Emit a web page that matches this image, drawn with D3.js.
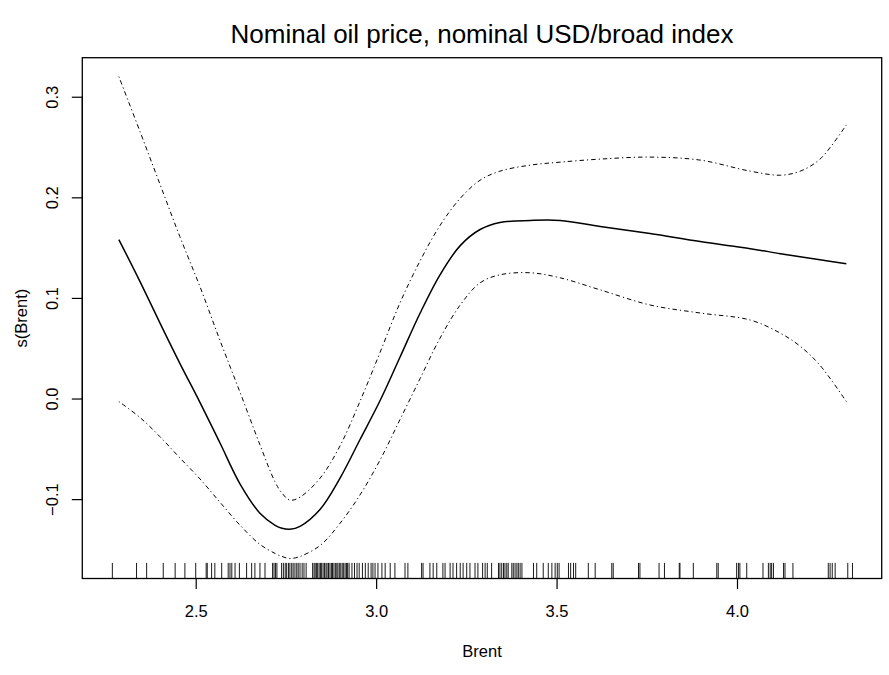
<!DOCTYPE html>
<html>
<head>
<meta charset="utf-8">
<script src="https://cdn.jsdelivr.net/npm/d3@7"></script>
<style>
  html, body { margin: 0; padding: 0; background: #ffffff; }
  svg { display: block; font-family: "Liberation Sans", Arial, sans-serif; }
</style>
</head>
<body>
<svg id="chart" width="889" height="675"></svg>
<script>
// Smooth term s(Brent): fitted curve and its +/- 2 s.e. band
const brent = [2.287, 2.346, 2.401, 2.456, 2.512, 2.567, 2.623, 2.678, 2.720, 2.739, 2.761, 2.789,
  2.845, 2.900, 2.955, 3.011, 3.066, 3.122, 3.177, 3.233, 3.288, 3.343, 3.427, 3.510, 3.621,
  3.759, 3.898, 4.037, 4.120, 4.175, 4.230, 4.303];
const fit = [0.158, 0.116, 0.075, 0.035, -0.004, -0.044, -0.085, -0.114, -0.126, -0.129, -0.130, -0.127,
  -0.110, -0.079, -0.041, -0.002, 0.041, 0.085, 0.123, 0.152, 0.168, 0.175, 0.177, 0.177, 0.171,
  0.164, 0.156, 0.149, 0.144, 0.141, 0.138, 0.134];
const upper = [0.320, 0.265, 0.213, 0.161, 0.111, 0.058, 0.006, -0.046, -0.083, -0.094, -0.101, -0.098,
  -0.079, -0.047, -0.003, 0.046, 0.095, 0.137, 0.172, 0.199, 0.217, 0.226, 0.232, 0.235, 0.238,
  0.240, 0.237, 0.226, 0.222, 0.226, 0.238, 0.272];
const lower = [-0.003, -0.019, -0.038, -0.059, -0.080, -0.103, -0.126, -0.145, -0.154, -0.157, -0.159, -0.157,
  -0.146, -0.124, -0.096, -0.061, -0.021, 0.020, 0.060, 0.093, 0.115, 0.123, 0.125, 0.120, 0.108,
  0.093, 0.085, 0.078, 0.065, 0.052, 0.033, -0.003];

// Observed Brent values shown as a rug along the x axis
const rugValues = [2.269, 2.336, 2.364, 2.410, 2.443, 2.470, 2.500, 2.529, 2.532, 2.544, 2.553, 2.572,
  2.590, 2.595, 2.600, 2.609, 2.621, 2.641, 2.655, 2.664, 2.678, 2.692, 2.713, 2.717, 2.721, 2.725,
  2.738, 2.743, 2.748, 2.752, 2.757, 2.761, 2.766, 2.770, 2.775, 2.780, 2.784, 2.789, 2.795, 2.800,
  2.806, 2.824, 2.828, 2.831, 2.835, 2.838, 2.842, 2.846, 2.849, 2.853, 2.857, 2.861, 2.864, 2.868,
  2.872, 2.876, 2.879, 2.883, 2.887, 2.891, 2.894, 2.898, 2.902, 2.906, 2.910, 2.914, 2.918, 2.921,
  2.925, 2.933, 2.940, 2.947, 2.953, 2.962, 2.970, 2.978, 2.986, 2.991, 2.997, 3.005, 3.016, 3.025,
  3.039, 3.052, 3.080, 3.088, 3.126, 3.130, 3.149, 3.158, 3.168, 3.185, 3.191, 3.205, 3.213, 3.223,
  3.233, 3.241, 3.251, 3.260, 3.274, 3.282, 3.295, 3.302, 3.308, 3.320, 3.339, 3.343, 3.348, 3.353,
  3.357, 3.362, 3.366, 3.376, 3.380, 3.385, 3.390, 3.394, 3.399, 3.404, 3.436, 3.445, 3.463, 3.477,
  3.487, 3.496, 3.502, 3.507, 3.533, 3.539, 3.547, 3.553, 3.588, 3.607, 3.653, 3.657, 3.727, 3.731,
  3.784, 3.799, 3.840, 3.842, 3.879, 3.944, 3.948, 3.999, 4.004, 4.008, 4.027, 4.072, 4.087, 4.092,
  4.096, 4.101, 4.129, 4.133, 4.155, 4.253, 4.258, 4.264, 4.272, 4.307, 4.320];

const xLimits = [2.1857, 4.401];
const yLimits = [-0.1789, 0.3388];
const xTicks = [2.5, 3.0, 3.5, 4.0];
const yTicks = [-0.1, 0.0, 0.1, 0.2, 0.3];

const titleText = "Nominal oil price, nominal USD/broad index";
const xLabel = "Brent";
const yLabel = "s(Brent)";

const svg = d3.select("#chart");
const box = { left: 82.3, top: 57.7, right: 881.7, bottom: 578.5 };

const x = d3.scaleLinear().domain(xLimits).range([box.left, box.right]);
const y = d3.scaleLinear().domain(yLimits).range([box.bottom, box.top]);

const ink = "#000000";
const tickFont = 16.5;

// Curves
const line = vals => d3.line()
  .x((d, i) => x(brent[i]))
  .y(d => y(d))
  .curve(d3.curveCatmullRom.alpha(0.5))(vals);

svg.append("path")
  .attr("d", line(fit))
  .attr("fill", "none")
  .attr("stroke", ink)
  .attr("stroke-width", 1.5);

[upper, lower].forEach(vals => {
  svg.append("path")
    .attr("d", line(vals))
    .attr("fill", "none")
    .attr("stroke", ink)
    .attr("stroke-width", 1)
    .attr("stroke-dasharray", "1.2,3,4.5,3");
});

// Rug
const rugLen = 15.6;
svg.append("g")
  .selectAll("line")
  .data(rugValues)
  .join("line")
  .attr("x1", d => x(d))
  .attr("x2", d => x(d))
  .attr("y1", box.bottom)
  .attr("y2", box.bottom - rugLen)
  .attr("stroke", ink)
  .attr("stroke-width", 0.9);

// Axes
const xAxis = d3.axisBottom(x).tickValues(xTicks).tickFormat(d3.format(".1f")).tickSize(10.5).tickSizeOuter(0);
const gx = svg.append("g").attr("transform", `translate(0,${box.bottom})`).call(xAxis);
gx.select(".domain").attr("d", `M${x(xTicks[0])},0H${x(xTicks[xTicks.length - 1])}`).attr("stroke", ink).attr("stroke-width", 1.2);
gx.selectAll(".tick line").attr("stroke", ink).attr("stroke-width", 1.2);
gx.selectAll(".tick text")
  .attr("y", 38.5).attr("dy", 0)
  .attr("fill", ink)
  .style("font-size", tickFont + "px")
  .style("font-family", "'Liberation Sans', Arial, sans-serif");

const yAxis = d3.axisLeft(y).tickValues(yTicks).tickFormat(d3.format(".1f")).tickSize(10.5).tickSizeOuter(0);
const gy = svg.append("g").attr("transform", `translate(${box.left},0)`).call(yAxis);
gy.select(".domain").attr("d", `M0,${y(yTicks[0])}V${y(yTicks[yTicks.length - 1])}`).attr("stroke", ink).attr("stroke-width", 1.2);
gy.selectAll(".tick line").attr("stroke", ink).attr("stroke-width", 1.2);
gy.selectAll(".tick text")
  .attr("x", 0).attr("y", -24).attr("dy", 0)
  .attr("transform", "rotate(-90)")
  .attr("text-anchor", "middle")
  .attr("fill", ink)
  .style("font-size", tickFont + "px")
  .style("font-family", "'Liberation Sans', Arial, sans-serif");

// Plot frame
svg.append("rect")
  .attr("x", box.left).attr("y", box.top)
  .attr("width", box.right - box.left).attr("height", box.bottom - box.top)
  .attr("fill", "none").attr("stroke", ink).attr("stroke-width", 1.3);

// Titles
const cx = (box.left + box.right) / 2;
const cy = (box.top + box.bottom) / 2;
svg.append("text")
  .attr("x", cx).attr("y", 43)
  .attr("text-anchor", "middle")
  .style("font-size", "26px")
  .text(titleText);

svg.append("text")
  .attr("x", cx).attr("y", 657)
  .attr("text-anchor", "middle")
  .style("font-size", tickFont + "px")
  .text(xLabel);

svg.append("text")
  .attr("transform", `translate(27,${cy}) rotate(-90)`)
  .attr("text-anchor", "middle")
  .style("font-size", tickFont + "px")
  .text(yLabel);
</script>
</body>
</html>
